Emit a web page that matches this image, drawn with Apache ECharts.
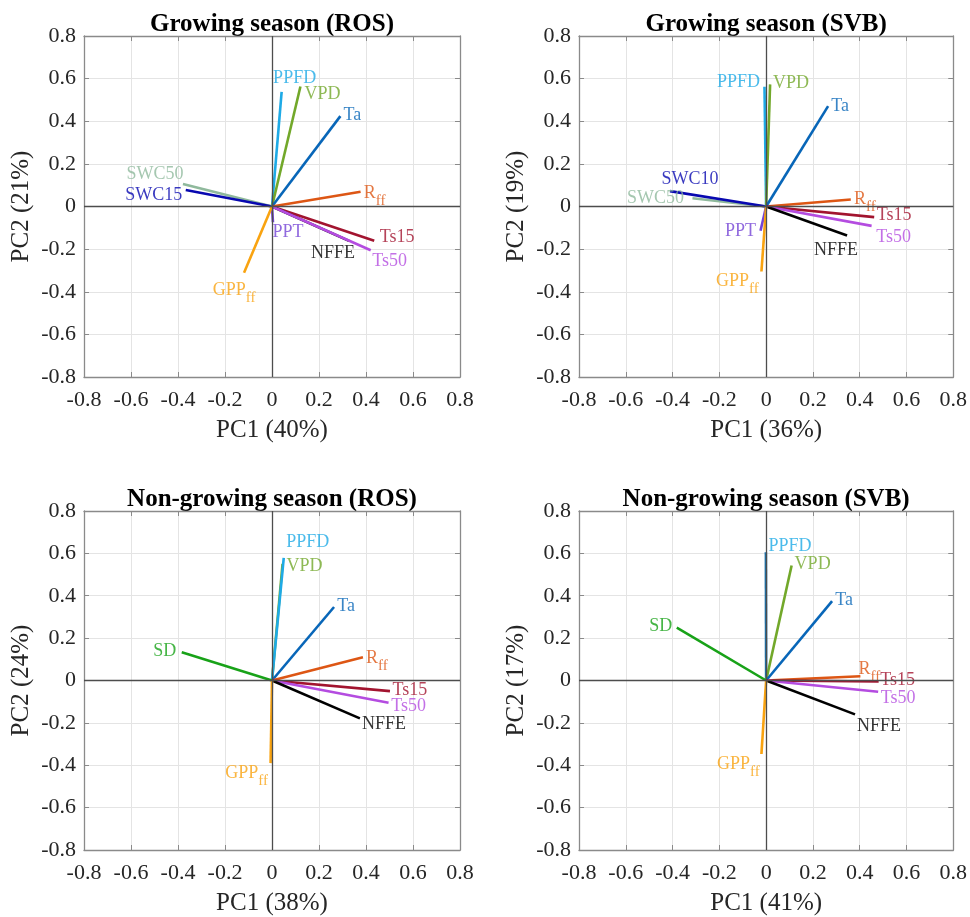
<!DOCTYPE html>
<html>
<head>
<meta charset="utf-8">
<script src="https://cdn.jsdelivr.net/npm/echarts@6/dist/echarts.min.js"></script>
<style>html,body{margin:0;padding:0;background:#fff}#c{width:970px;height:917px}</style>
</head>
<body>
<div id="c"></div>
<script>
// ---------------- DATA ----------------
const axisTicks = [-0.8, -0.6, -0.4, -0.2, 0, 0.2, 0.4, 0.6, 0.8];

// Panel 1: Growing season (ROS)
const p1Names = ['SWC50', 'SWC15', 'PPFD', 'VPD', 'Ta', 'Rff', 'Ts15', 'NFFE', 'Ts50', 'PPT', 'GPPff'];
const p1PC1   = [-0.379, -0.367, 0.041, 0.121, 0.291, 0.377, 0.435, 0.328, 0.420, 0.004, -0.119];
const p1PC2   = [ 0.106,  0.077, 0.538, 0.563, 0.424, 0.069, -0.161, -0.161, -0.205, -0.074, -0.311];

// Panel 2: Growing season (SVB)
const p2Names = ['SWC50', 'SWC10', 'PPFD', 'VPD', 'Ta', 'Rff', 'Ts15', 'Ts50', 'NFFE', 'PPT', 'GPPff'];
const p2PC1   = [-0.315, -0.411, -0.007, 0.017, 0.265, 0.362, 0.462, 0.451, 0.346, -0.024, -0.020];
const p2PC2   = [ 0.039,  0.072,  0.562, 0.573, 0.471, 0.033, -0.050, -0.091, -0.136, -0.114, -0.305];

// Panel 3: Non-growing season (ROS)
const p3Names = ['VPD', 'PPFD', 'Ta', 'SD', 'Rff', 'Ts15', 'Ts50', 'NFFE', 'GPPff'];
const p3PC1   = [0.045, 0.050, 0.264, -0.384, 0.387, 0.502, 0.496, 0.374, -0.006];
const p3PC2   = [0.550, 0.579, 0.347,  0.133, 0.110, -0.050, -0.105, -0.179, -0.390];

// Panel 4: Non-growing season (SVB)
const p4Names = ['PPFD', 'VPD', 'Ta', 'SD', 'Rff', 'Ts15', 'Ts50', 'NFFE', 'GPPff'];
const p4PC1   = [-0.001, 0.109, 0.282, -0.382, 0.403, 0.481, 0.479, 0.380, -0.020];
const p4PC2   = [ 0.605, 0.543, 0.375,  0.249, 0.020, -0.005, -0.053, -0.160, -0.347];

const titles = ['Growing season (ROS)', 'Growing season (SVB)', 'Non-growing season (ROS)', 'Non-growing season (SVB)'];
const xNames = ['PC1 (40%)', 'PC1 (36%)', 'PC1 (38%)', 'PC1 (41%)'];
const yNames = ['PC2 (21%)', 'PC2 (19%)', 'PC2 (24%)', 'PC2 (17%)'];

// ---------------- STYLE ----------------
const FONT = "'Liberation Serif', 'Times New Roman', serif";
const colors = {
  PPFD: '#1eaae6', VPD: '#72a82a', Ta: '#0866b8', SWC50: '#8fb99c', SWC15: '#0808b0', SWC10: '#0808b0',
  Rff: '#dd5614', Ts15: '#a2142f', Ts50: '#b44ce0', NFFE: '#000000', PPT: '#7444d6', GPPff: '#f9a310', SD: '#18a218'
};
const lineColorOverride = [{}, {}, {}, { PPFD: '#1a6fa8' }];
const labelOffsets = [
  { PPFD: [13, -14], VPD: [22, 8], Ta: [12, -1], SWC50: [-28, -10], SWC15: [-32, 5], Rff: [14, 1], Ts15: [23, -4],
    Ts50: [19, 11], NFFE: [-16, 12], PPT: [15, 10], GPPff: [-10, 17] },
  { PPFD: [-26, -4], VPD: [21, -1], Ta: [12, 0], SWC10: [20, -12], SWC50: [-37, 0], Rff: [14, 0], Ts15: [20, -2],
    Ts50: [22, 11], NFFE: [-11, 15], PPT: [-20, 0], GPPff: [-24, 10] },
  { PPFD: [24, -16], VPD: [22, 2], Ta: [12, -1], SD: [-17, -1], Rff: [14, 1], Ts15: [20, -1], Ts50: [20, 4],
    NFFE: [24, 6], GPPff: [-24, 10] },
  { PPFD: [24, -6], VPD: [21, -1], Ta: [12, -1], SD: [-16, -1], Rff: [9, -7], Ts15: [19, -1], Ts50: [20, 7],
    NFFE: [24, 12], GPPff: [-23, 10] }
];
const grids = [
  { left: 84, top: 36, width: 376, height: 341 },
  { left: 579, top: 36, width: 376, height: 341 },
  { left: 84, top: 511, width: 376, height: 340 },
  { left: 579, top: 511, width: 376, height: 340 }
];

const panels = [
  [p1Names, p1PC1, p1PC2], [p2Names, p2PC1, p2PC2], [p3Names, p3PC1, p3PC2], [p4Names, p4PC1, p4PC2]
];

function fmtTick(v) {
  if (Math.abs(v) < 1e-9) return '0';
  return v.toFixed(1);
}
function labelText(n) {
  if (n === 'Rff') return '{m|R}{s|ff}';
  if (n === 'GPPff') return '{m|GPP}{s|ff}';
  return '{m|' + n + '}';
}

const xAxis = [], yAxis = [], series = [];
const step = axisTicks[1] - axisTicks[0];
const amin = axisTicks[0], amax = axisTicks[axisTicks.length - 1];

panels.forEach((p, i) => {
  const common = {
    type: 'value', gridIndex: i, min: amin, max: amax, interval: step,
    axisLine: { show: true, onZero: false, lineStyle: { color: '#8a8a8a', width: 1.3 } },
    axisTick: { show: true, inside: true, length: 5, lineStyle: { color: '#8a8a8a' } },
    splitLine: { show: false }
  };
  xAxis.push(Object.assign({}, common, {
    position: 'bottom',
    axisLabel: { formatter: fmtTick, fontFamily: FONT, fontSize: 22, color: '#262626', margin: 12 },
    name: xNames[i], nameLocation: 'middle', nameGap: 41,
    nameTextStyle: { fontFamily: FONT, fontSize: 25, color: '#262626' },
    splitLine: { show: true, lineStyle: { color: '#e4e4e4', width: 1 } }
  }));
  xAxis.push(Object.assign({}, common, {
    position: 'top', axisLabel: { show: false },
    name: titles[i], nameLocation: 'middle', nameGap: -1,
    nameTextStyle: { fontFamily: FONT, fontSize: 25, fontWeight: 'bold', color: '#000' }
  }));
  yAxis.push(Object.assign({}, common, {
    position: 'left',
    axisLabel: { formatter: fmtTick, fontFamily: FONT, fontSize: 22, color: '#262626', margin: 8 },
    name: yNames[i], nameLocation: 'middle', nameGap: 50,
    nameTextStyle: { fontFamily: FONT, fontSize: 25, color: '#262626' },
    splitLine: { show: true, lineStyle: { color: '#e4e4e4', width: 1 } }
  }));
  yAxis.push(Object.assign({}, common, { position: 'right', axisLabel: { show: false } }));

  const xi = 2 * i, yi = 2 * i;
  // zero lines
  series.push({
    type: 'line', xAxisIndex: xi, yAxisIndex: yi, data: [], silent: true, symbol: 'none', z: 1,
    markLine: {
      silent: true, symbol: 'none', label: { show: false },
      lineStyle: { color: '#4d4d4d', width: 1.3, type: 'solid' },
      data: [{ xAxis: 0 }, { yAxis: 0 }]
    }
  });
  const [names, pc1, pc2] = p;
  names.forEach((n, k) => {
    const c = lineColorOverride[i][n] || colors[n];
    series.push({
      type: 'line', xAxisIndex: xi, yAxisIndex: yi, symbol: 'none', silent: true, z: 3,
      data: [[0, 0], [pc1[k], pc2[k]]],
      lineStyle: { color: c, width: 2.6 }
    });
  });
  series.push({
    type: 'scatter', xAxisIndex: xi, yAxisIndex: yi, symbolSize: 1, silent: true, z: 4,
    itemStyle: { color: 'rgba(0,0,0,0)' },
    data: names.map((n, k) => ({
      value: [pc1[k], pc2[k]],
      label: {
        show: true, position: 'inside', align: 'center', verticalAlign: 'middle',
        offset: labelOffsets[i][n] || [0, 0],
        fontFamily: FONT, fontSize: 18, color: colors[n],
        formatter: labelText(n),
        rich: {
          m: { fontFamily: FONT, fontSize: 18, color: colors[n], lineHeight: 20 },
          s: { fontFamily: FONT, fontSize: 15, color: colors[n], lineHeight: 20, padding: [16, 0, 0, 0] }
        }
      }
    }))
  });
});

const chart = echarts.init(document.getElementById('c'), null, { renderer: 'canvas' });
chart.setOption({
  backgroundColor: '#ffffff',
  animation: false,
  textStyle: { fontFamily: FONT },
  grid: grids.map(g => Object.assign({ containLabel: false }, g)),
  xAxis, yAxis, series
});
</script>
</body>
</html>
